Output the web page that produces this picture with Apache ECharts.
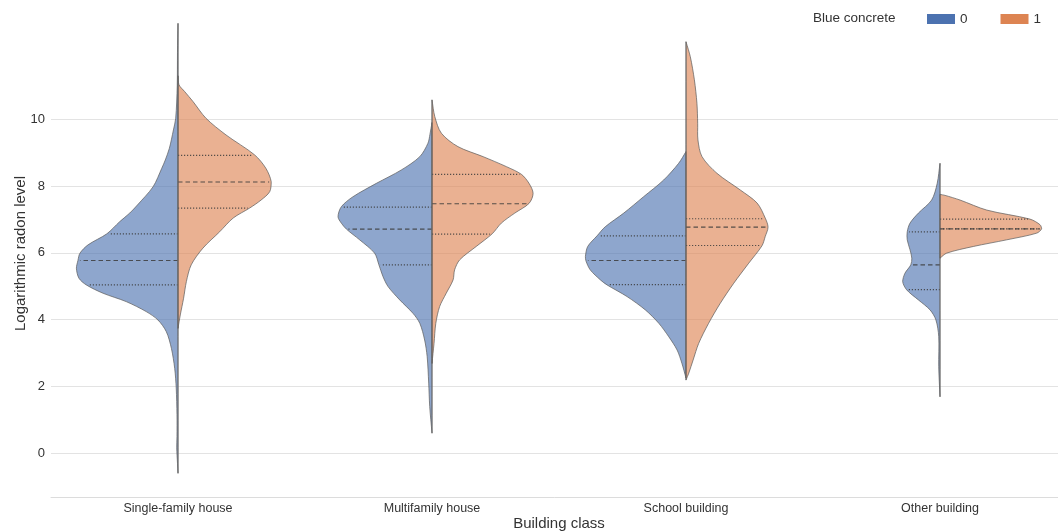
<!DOCTYPE html>
<html>
<head>
<meta charset="utf-8">
<script src="https://cdn.jsdelivr.net/npm/echarts@6/dist/echarts.min.js"></script>
<style>
  html, body { margin: 0; padding: 0; background: #fff; }
  #chart { width: 1058px; height: 532px; }
</style>
</head>
<body>
<div id="chart"></div>
<script>
// categories and hue levels
var categories = ['Single-family house', 'Multifamily house', 'School building', 'Other building'];
var hueNames = ['0', '1'];
var yTicks = [0, 2, 4, 6, 8, 10];

// violin outlines: [radon level, half width as share of one category band]
var singleFamily0 = [[12.87,0],[12.0,0.002],[11.0,0.003],[10.03,0.009],[9.68,0.018],[9.13,0.034],[8.78,0.050],[8.53,0.064],[7.98,0.098],[7.43,0.160],[7.19,0.190],[6.93,0.230],[6.57,0.280],[6.24,0.354],[5.99,0.386],[5.77,0.394],[5.54,0.400],[5.24,0.390],[5.04,0.361],[4.79,0.295],[4.54,0.204],[4.24,0.125],[3.99,0.079],[3.64,0.046],[3.14,0.026],[2.54,0.013],[1.95,0.007],[1.15,0.004],[0.5,0.004],[0.16,0.005],[-0.3,0.002],[-0.6,0]];
var singleFamily1 = [[11.3,0],[11.03,0.004],[10.83,0.026],[10.53,0.059],[10.03,0.110],[9.53,0.189],[8.93,0.302],[8.53,0.346],[8.13,0.367],[7.83,0.361],[7.58,0.327],[7.34,0.282],[7.04,0.217],[6.63,0.164],[6.14,0.098],[5.64,0.052],[5.14,0.033],[4.64,0.022],[4.14,0.009],[3.74,0]];
var multifamily0 = [[9.9,0],[9.55,0.008],[9.28,0.016],[8.88,0.048],[8.48,0.121],[8.08,0.219],[7.68,0.311],[7.38,0.357],[7.08,0.370],[6.89,0.357],[6.71,0.337],[6.39,0.285],[5.99,0.226],[5.64,0.209],[5.29,0.193],[4.99,0.173],[4.59,0.127],[4.19,0.075],[3.89,0.048],[3.39,0.029],[2.89,0.019],[2.1,0.013],[1.4,0.009],[0.6,0]];
var multifamily1 = [[10.58,0],[10.08,0.011],[9.58,0.037],[9.18,0.102],[8.88,0.201],[8.58,0.293],[8.35,0.352],[8.08,0.382],[7.78,0.398],[7.48,0.382],[7.19,0.326],[6.89,0.273],[6.57,0.237],[6.19,0.174],[5.79,0.109],[5.49,0.089],[5.19,0.083],[4.79,0.056],[4.39,0.030],[3.89,0.015],[3.29,0.008],[2.69,0]];
var school0 = [[9.03,0],[8.68,0.029],[8.18,0.088],[7.68,0.167],[7.19,0.245],[6.78,0.318],[6.51,0.350],[6.19,0.387],[5.89,0.396],[5.76,0.394],[5.49,0.377],[5.19,0.337],[5.04,0.311],[4.69,0.232],[4.29,0.160],[3.89,0.107],[3.49,0.068],[3.09,0.035],[2.69,0.016],[2.25,0]];
var school1 = [[12.32,0],[11.87,0.017],[11.18,0.033],[10.48,0.043],[9.88,0.046],[9.38,0.047],[8.88,0.063],[8.38,0.122],[7.88,0.214],[7.49,0.280],[7.04,0.312],[6.77,0.323],[6.49,0.312],[6.21,0.299],[5.69,0.247],[5.09,0.188],[4.49,0.135],[3.89,0.089],[3.29,0.050],[2.79,0.028],[2.4,0.011],[2.19,0]];
var other0 = [[8.68,0],[8.08,0.011],[7.58,0.033],[7.19,0.085],[6.89,0.118],[6.63,0.129],[6.39,0.129],[6.09,0.118],[5.84,0.111],[5.64,0.115],[5.39,0.138],[5.14,0.147],[4.89,0.131],[4.59,0.085],[4.29,0.039],[3.99,0.016],[3.49,0.005],[2.59,0.005],[1.69,0]];
var other1 = [[7.75,0],[7.72,0.020],[7.58,0.079],[7.28,0.184],[7.01,0.354],[6.84,0.394],[6.72,0.400],[6.59,0.381],[6.39,0.263],[6.19,0.131],[5.99,0.026],[5.84,0]];

// quartiles [q1, median, q3] per category
var quartiles0 = [[5.04,5.77,6.57],[5.64,6.71,7.37],[5.05,5.77,6.51],[4.90,5.64,6.63]];
var quartiles1 = [[7.34,8.12,8.92],[6.56,7.47,8.35],[6.22,6.77,7.02],[6.72,6.72,7.01]];

var profiles = [
    [singleFamily0, multifamily0, school0, other0],
    [singleFamily1, multifamily1, school1, other1]
];
var quartiles = [quartiles0, quartiles1];
var colors = ['#4c72b0', '#dd8452'];
var fills = ['rgba(76,114,176,0.63)', 'rgba(221,132,82,0.63)'];

var font = '"Liberation Sans", Arial, sans-serif';

// width of half violin at value v
function widthAt(prof, v) {
    for (var k = 0; k < prof.length - 1; k++) {
        var a = prof[k], b = prof[k + 1];
        if (v <= a[0] && v >= b[0]) {
            var t = (a[0] - v) / (a[0] - b[0]);
            return a[1] + (b[1] - a[1]) * t;
        }
    }
    return 0;
}

function makeRender(side) {
    var sign = side === 0 ? -1 : 1;
    return function (params, api) {
        var i = params.dataIndex;
        var prof = profiles[side][i];
        var band = api.size([1, 0])[0];
        var top = api.coord([i, prof[0][0]]);
        var bottom = api.coord([i, prof[prof.length - 1][0]]);
        var pts = [];
        var minX = Infinity, maxX = -Infinity;
        for (var k = 0; k < prof.length; k++) {
            var p = api.coord([i, prof[k][0]]);
            var x = p[0] + sign * prof[k][1] * band;
            minX = Math.min(minX, x);
            maxX = Math.max(maxX, x);
            pts.push([x, p[1]]);
        }
        pts.push(bottom);
        pts.push(top);
        var box = [[Math.min(minX, top[0]), top[1]], [Math.max(maxX, top[0]), bottom[1]]];
        var children = [{
            type: 'polygon',
            shape: { points: pts, smooth: 0.3, smoothConstraint: box },
            style: { fill: fills[side], stroke: 'rgba(90,90,90,0.7)', lineWidth: 1 }
        }];
        var q = quartiles[side][i];
        for (var j = 0; j < 3; j++) {
            var c = api.coord([i, q[j]]);
            var w = widthAt(prof, q[j]) * band - 2;
            children.push({
                type: 'line',
                shape: { x1: c[0], y1: c[1], x2: c[0] + sign * w, y2: c[1] },
                style: {
                    stroke: 'rgba(60,60,60,0.85)',
                    lineWidth: 1.2,
                    lineDash: j === 1 ? [4.5, 3] : [1.2, 1.8]
                }
            });
        }
        children.push({
            type: 'line',
            shape: { x1: top[0], y1: top[1], x2: bottom[0], y2: bottom[1] },
            style: { stroke: 'rgba(110,110,110,0.85)', lineWidth: 1 }
        });
        return { type: 'group', children: children };
    };
}

var myChart = echarts.init(document.getElementById('chart'));
var option = {
    animation: false,
    textStyle: { fontFamily: font },
    title: {
        text: 'Blue concrete',
        left: 813,
        top: 11,
        padding: 0,
        textStyle: { fontFamily: font, fontSize: 13.5, fontWeight: 'normal', color: '#333' }
    },
    legend: {
        left: 927,
        top: 12,
        padding: 0,
        icon: 'rect',
        itemWidth: 28,
        itemHeight: 10,
        itemGap: 33,
        data: hueNames,
        textStyle: { fontFamily: font, fontSize: 13.5, color: '#333' }
    },
    grid: { left: 51, right: -9, top: 10, bottom: 35, outerBoundsMode: 'none', containLabel: false },
    xAxis: {
        type: 'category',
        data: categories,
        boundaryGap: true,
        name: 'Building class',
        nameLocation: 'middle',
        nameGap: 19,
        nameMoveOverlap: false,
        nameTextStyle: { fontFamily: font, fontSize: 15, color: '#333' },
        axisLine: { show: true, onZero: false, lineStyle: { color: '#dcdcdc', width: 1 } },
        axisTick: { show: false },
        axisLabel: { fontFamily: font, fontSize: 12.5, color: '#333', margin: 5 },
        splitLine: { show: false }
    },
    yAxis: {
        type: 'value',
        min: -1.31,
        max: 13.27,
        name: 'Logarithmic radon level',
        nameLocation: 'middle',
        nameGap: 23,
        nameMoveOverlap: false,
        nameTextStyle: { fontFamily: font, fontSize: 15, color: '#333' },
        axisLine: { show: false },
        axisTick: { show: false, customValues: yTicks },
        axisLabel: { customValues: yTicks, fontFamily: font, fontSize: 13, color: '#333', margin: 6 },
        splitLine: { show: true, lineStyle: { color: '#e3e3e3', width: 1 } }
    },
    series: [0, 1].map(function (side) {
        return {
            name: hueNames[side],
            type: 'custom',
            renderItem: makeRender(side),
            itemStyle: { color: colors[side] },
            data: categories.map(function (c, i) { return [i]; }),
            z: 2 + side
        };
    })
};
myChart.setOption(option);
</script>
</body>
</html>
